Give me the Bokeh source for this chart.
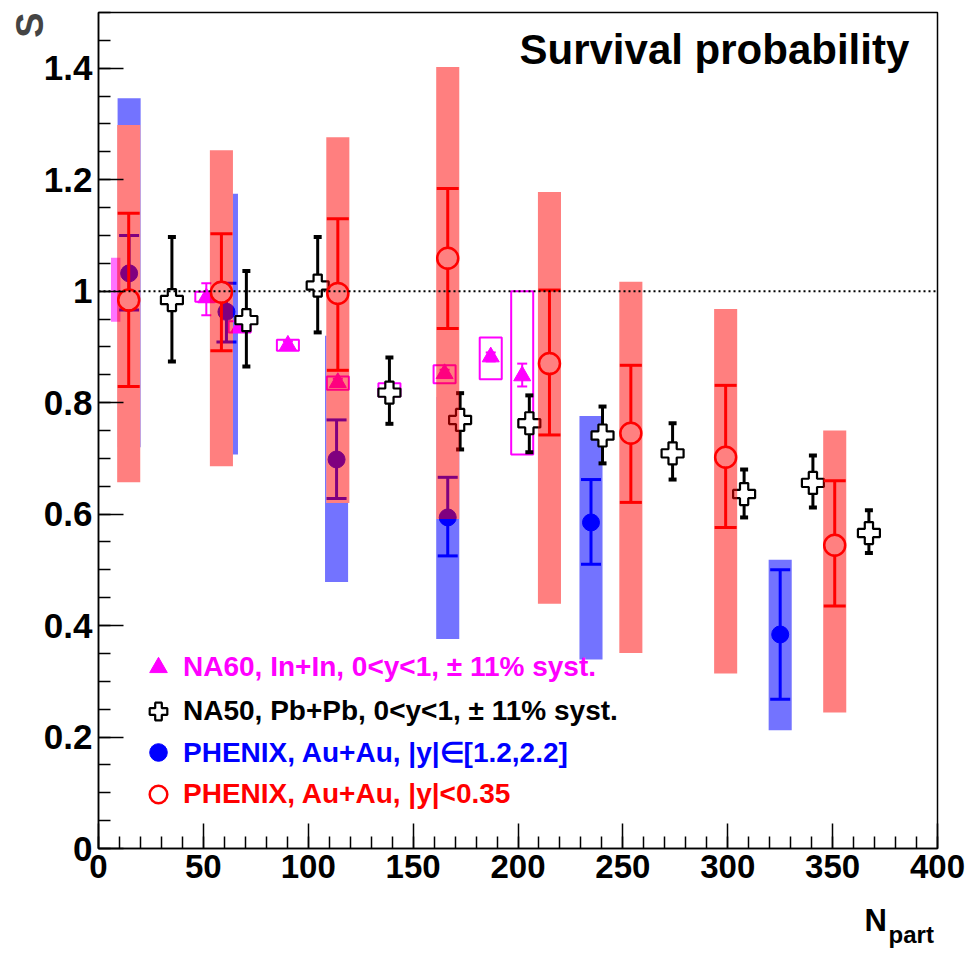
import numpy as np
from bokeh.plotting import figure
from bokeh.models import (Range1d, FixedTicker, Legend, LegendItem, Label, Span,
                          Title, LinearAxis)
from bokeh.embed import file_html
from bokeh.resources import INLINE

# ---------------- data ----------------
# NA60, In+In (magenta triangles, open syst boxes)
na60_n = [51.4, 67.3, 90.3, 114.1, 138.7, 165.0, 187.0, 202.0]
na60_s = [0.988, 0.936, 0.903, 0.836, 0.820, 0.852, 0.882, 0.848]
na60_stat_lo = [0.957, 0.928, 0.896, 0.829, 0.813, 0.845, 0.874, 0.829]
na60_stat_hi = [1.014, 0.944, 0.910, 0.843, 0.827, 0.859, 0.890, 0.870]
na60_sys_lo = [0.981, 0.926, 0.893, 0.823, 0.811, 0.835, 0.842, 0.707]
na60_sys_hi = [0.999, 0.946, 0.913, 0.847, 0.835, 0.867, 0.917, 1.000]
# NA60 global (shaded) box near low Npart
na60_glob_n = [8.2]
na60_glob_lo = [0.945]
na60_glob_hi = [1.060]

# NA50, Pb+Pb (open crosses)
na50_n = [35.0, 70.5, 104.5, 138.7, 172.4, 205.4, 240.3, 273.7, 307.8, 340.6, 367.3]
na50_s = [0.984, 0.948, 1.010, 0.818, 0.769, 0.763, 0.741, 0.709, 0.636, 0.656, 0.566]
na50_lo = [0.874, 0.865, 0.926, 0.762, 0.716, 0.711, 0.691, 0.662, 0.594, 0.612, 0.530]
na50_hi = [1.097, 1.036, 1.097, 0.881, 0.817, 0.813, 0.793, 0.763, 0.680, 0.705, 0.607]

# PHENIX Au+Au, |y|<0.35 (red open circles)
phm_n = [14.4, 58.6, 114.1, 166.5, 215.0, 253.8, 299.0, 351.0]
phm_s = [0.984, 0.998, 0.996, 1.059, 0.870, 0.745, 0.702, 0.544]
phm_stat_lo = [0.829, 0.893, 0.858, 0.933, 0.742, 0.621, 0.576, 0.435]
phm_stat_hi = [1.140, 1.103, 1.130, 1.184, 1.002, 0.867, 0.831, 0.660]
phm_sys_lo = [0.657, 0.686, 0.620, 0.591, 0.439, 0.351, 0.314, 0.244]
phm_sys_hi = [1.298, 1.253, 1.276, 1.402, 1.178, 1.017, 0.968, 0.750]

# PHENIX Au+Au, |y| in [1.2,2.2] (blue filled circles)
phf_n = [14.6, 61.0, 113.5, 166.5, 234.8, 325.0]
phf_s = [1.032, 0.963, 0.698, 0.594, 0.585, 0.384]
phf_stat_lo = [0.966, 0.909, 0.628, 0.525, 0.510, 0.268]
phf_stat_hi = [1.100, 1.014, 0.769, 0.666, 0.662, 0.500]
phf_sys_lo = [0.720, 0.707, 0.478, 0.376, 0.339, 0.212]
phf_sys_hi = [1.346, 1.175, 0.920, 0.810, 0.776, 0.518]

ref_level = 1.0

x_ticks = [0, 50, 100, 150, 200, 250, 300, 350, 400]
y_ticks = [0.0, 0.2, 0.4, 0.6, 0.8, 1.0, 1.2, 1.4]
y_tick_labels = ["0", "0.2", "0.4", "0.6", "0.8", "1", "1.2", "1.4"]

labels = [
    "NA60, In+In, 0<y<1, \u00b1 11% syst.",
    "NA50, Pb+Pb, 0<y<1, \u00b1 11% syst.",
    "PHENIX, Au+Au, |y|\u2208[1.2,2.2]",
    "PHENIX, Au+Au, |y|<0.35",
]
title_text = "Survival probability"
y_title = "S"
x_title_main = "N"
x_title_sub = "part"

# ---------------- styles ----------------
FONT = "Liberation Sans"
MAG = "#ff00ff"
RED = "#ff0000"
BLUE = "#0000ff"
BOX_W = 11
NA60_BOX_W = 10.5
X_TITLE_POS = 370.5   # where the x title sits along the axis
X_SUB_POS = 387.5

p = figure(width=970, height=952, output_backend="svg", toolbar_location=None,
           x_range=Range1d(0, 400), y_range=Range1d(0, 1.5), title=None,
           min_border_left=98, min_border_right=33, min_border_top=12,
           min_border_bottom=104)
p.xgrid.visible = False
p.ygrid.visible = False
p.outline_line_color = "black"
p.outline_line_width = 1.5
p.background_fill_color = "white"

# axes
p.xaxis.ticker = FixedTicker(ticks=x_ticks, minor_ticks=list(np.arange(0, 401, 10)))
p.yaxis.ticker = FixedTicker(ticks=y_ticks, minor_ticks=[round(v, 2) for v in np.arange(0, 1.501, 0.05)])
p.yaxis.major_label_overrides = {t: l for t, l in zip(y_ticks, y_tick_labels)}
for ax in (p.xaxis[0], p.yaxis[0]):
    ax.axis_line_color = "black"
    ax.axis_line_width = 1.5
    ax.major_tick_in = 25
    ax.major_tick_out = 0
    ax.minor_tick_in = 12
    ax.minor_tick_out = 0
    ax.major_tick_line_width = 1.5
    ax.minor_tick_line_width = 1.5
    ax.major_tick_line_color = "black"
    ax.minor_tick_line_color = "black"
    ax.major_label_text_font = FONT
    ax.major_label_text_font_style = "bold"
    ax.major_label_text_color = "black"
p.xaxis.major_label_text_font_size = "33px"
p.xaxis.major_label_standoff = 6
p.yaxis.major_label_text_font_size = "35px"
p.yaxis.major_label_standoff = 6

# x-axis title "N" with subscript "part" (as two label-only axes)
for pos, txt, size, stand in [(X_TITLE_POS, x_title_main, "31px", 22),
                              (X_SUB_POS, x_title_sub, "24px", -20)]:
    ax = LinearAxis(ticker=FixedTicker(ticks=[pos], minor_ticks=[]),
                    major_label_overrides={pos: txt})
    ax.axis_line_color = None
    ax.major_tick_line_color = None
    ax.minor_tick_line_color = None
    ax.major_tick_in = 0
    ax.major_tick_out = 0
    ax.minor_tick_in = 0
    ax.minor_tick_out = 0
    ax.major_label_standoff = stand
    ax.major_label_text_font = FONT
    ax.major_label_text_font_style = "bold"
    ax.major_label_text_font_size = size
    ax.major_label_text_color = "black"
    p.add_layout(ax, "below")

# y-axis title
p.add_layout(Title(text=y_title, align="right", text_font=FONT, text_font_style="bold",
                   text_font_size="38px", standoff=-20), "left")

# blue systematic boxes
p.vbar(x=phf_n, width=BOX_W, bottom=phf_sys_lo, top=phf_sys_hi,
       fill_color=BLUE, fill_alpha=0.55, line_color=None)
# white mask under red boxes (red stipple covers what is below)
p.vbar(x=phm_n, width=BOX_W, bottom=phm_sys_lo, top=phm_sys_hi,
       fill_color="white", line_color=None)

# NA60 global shaded box
p.vbar(x=na60_glob_n, width=4.5, bottom=na60_glob_lo, top=na60_glob_hi,
       fill_color=MAG, fill_alpha=0.55, line_color=None)

# NA60 boxes, errors, triangles
p.vbar(x=na60_n, width=NA60_BOX_W, bottom=na60_sys_lo, top=na60_sys_hi,
       fill_alpha=0, line_color=MAG, line_width=2)
p.segment(x0=na60_n, y0=na60_stat_lo, x1=na60_n, y1=na60_stat_hi, line_color=MAG, line_width=2)
p.scatter(x=na60_n + na60_n, y=na60_stat_lo + na60_stat_hi, marker="dash", size=10,
          line_color=MAG, line_width=2)
r_na60 = p.scatter(x=na60_n, y=na60_s, marker="triangle", size=17,
                   fill_color=MAG, line_color=MAG)

# NA50
p.segment(x0=na50_n, y0=na50_lo, x1=na50_n, y1=na50_hi, line_color="black", line_width=3)
p.scatter(x=na50_n + na50_n, y=na50_lo + na50_hi, marker="dash", size=8,
          line_color="black", line_width=4)
r_na50 = p.scatter(x=na50_n, y=na50_s, marker="plus", size=22,
                   fill_color="white", line_color="black", line_width=2.2)

# PHENIX forward (blue) stat + points
p.segment(x0=phf_n, y0=phf_stat_lo, x1=phf_n, y1=phf_stat_hi, line_color=BLUE, line_width=3)
p.scatter(x=phf_n + phf_n, y=phf_stat_lo + phf_stat_hi, marker="dash", size=20,
          line_color=BLUE, line_width=3)
r_phf = p.scatter(x=phf_n, y=phf_s, marker="circle", size=17,
                  fill_color=BLUE, line_color=BLUE)

# red systematic boxes
p.vbar(x=phm_n, width=BOX_W, bottom=phm_sys_lo, top=phm_sys_hi,
       fill_color=RED, fill_alpha=0.5, line_color=None)

# PHENIX mid (red) stat + points
p.segment(x0=phm_n, y0=phm_stat_lo, x1=phm_n, y1=phm_stat_hi, line_color=RED, line_width=3)
p.scatter(x=phm_n + phm_n, y=phm_stat_lo + phm_stat_hi, marker="dash", size=22,
          line_color=RED, line_width=3)
p.scatter(x=phm_n, y=phm_s, marker="circle", size=19, fill_color="#ff8080", line_color=None)
r_phm = p.scatter(x=phm_n, y=phm_s, marker="circle", size=21,
                  fill_alpha=0, line_color=RED, line_width=2.5)

# reference line at S = 1
p.add_layout(Span(location=ref_level, dimension="width", line_color="black",
                  line_width=2, line_dash="2 3"))

# legends (one per colored entry); location = bottom-left, px from frame bottom-left
leg_specs = [(r_na60, labels[0], MAG, 159), (r_na50, labels[1], "black", 115),
             (r_phf, labels[2], BLUE, 74), (r_phm, labels[3], RED, 32)]
for r, lab, col, ybot in leg_specs:
    lg = Legend(items=[LegendItem(label=lab, renderers=[r])], location=(38, ybot),
                glyph_width=44, glyph_height=44, label_standoff=3, padding=0, margin=0,
                spacing=0, background_fill_alpha=0, border_line_color=None,
                label_text_font=FONT, label_text_font_style="bold",
                label_text_font_size="28px", label_text_color=col, label_height=44)
    p.add_layout(lg)

# plot title inside the frame
p.add_layout(Label(x=421, y=799, x_units="screen", y_units="screen",
                   text=title_text, text_font=FONT, text_font_style="bold",
                   text_font_size="42px", text_color="black", text_baseline="alphabetic"))

open("out.html", "w").write(file_html(p, INLINE))
